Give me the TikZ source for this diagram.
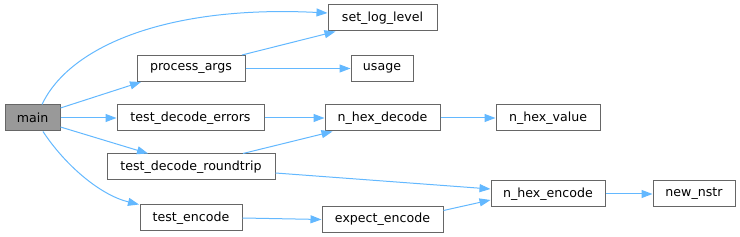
\documentclass[tikz,border=0pt]{standalone}
\usepackage{fontspec}
\setmainfont{DejaVu Sans}
\usetikzlibrary{arrows.meta}
\definecolor{edgecol}{HTML}{63B8FF}
\definecolor{boxline}{HTML}{666666}
\definecolor{mainfill}{HTML}{999999}
\tikzset{
  fn/.style={draw=boxline, fill=white, line width=1pt, minimum height=26pt, inner sep=0pt, font=\fontsize{12.6}{14}\selectfont},
  mainbox/.style={fn, fill=mainfill},
  call/.style={draw=edgecol, line width=1pt, -{Triangle[length=11pt,width=8pt,fill=edgecol]}},
}
\begin{document}
\begin{tikzpicture}[x=1pt,y=-1pt]
\useasboundingbox (0,0) rectangle (740,237);
\node[mainbox, minimum width=55pt] (main) at (32.5,118) {main};
\node[fn, minimum width=108pt] (pa) at (191,68.5) {process\_args};
\node[fn, minimum width=147pt] (tde) at (190.5,118) {test\_decode\_errors};
\node[fn, minimum width=168pt] (tdr) at (191,167) {test\_decode\_roundtrip};
\node[fn, minimum width=102pt] (te) at (191,218) {test\_encode};
\node[fn, minimum width=109pt] (sll) at (382.5,18) {set\_log\_level};
\node[fn, minimum width=62pt] (us) at (382,68.5) {usage};
\node[fn, minimum width=115pt] (hd) at (382.5,118) {n\_hex\_decode};
\node[fn, minimum width=121pt] (ee) at (382.5,219.5) {expect\_encode};
\node[fn, minimum width=104pt] (hv) at (548,118) {n\_hex\_value};
\node[fn, minimum width=114pt] (he) at (548,194) {n\_hex\_encode};
\node[fn, minimum width=82pt] (nn) at (694,194) {new\_nstr};

\draw[call] ([xshift=9.5pt]main.north) .. controls (70,45) and (170,5) .. ([yshift=5pt]sll.west);
\draw[call] ([yshift=10pt]main.east) -- ([xshift=-50pt]pa.south);
\draw[call] (main.east) -- (tde.west);
\draw[call] ([yshift=-9pt]main.east) -- ([xshift=-43pt]tdr.north);
\draw[call] ([xshift=10.5pt]main.south) .. controls (65,165) and (100,195) .. ([xshift=-52pt]te.north);
\draw[call] ([xshift=51pt]pa.north) -- ([xshift=-47pt]sll.south);
\draw[call] (pa.east) -- (us.west);
\draw[call] (tde.east) -- (hd.west);
\draw[call] ([xshift=52pt]tdr.north) -- ([xshift=-50pt]hd.south);
\draw[call] ([yshift=-6pt]tdr.east) -- ([yshift=5pt]he.west);
\draw[call] (te.east) -- (ee.west);
\draw[call] ([yshift=9pt]ee.east) -- ([yshift=-6pt]he.west);
\draw[call] (hd.east) -- (hv.west);
\draw[call] (he.east) -- (nn.west);
\end{tikzpicture}
\end{document}
